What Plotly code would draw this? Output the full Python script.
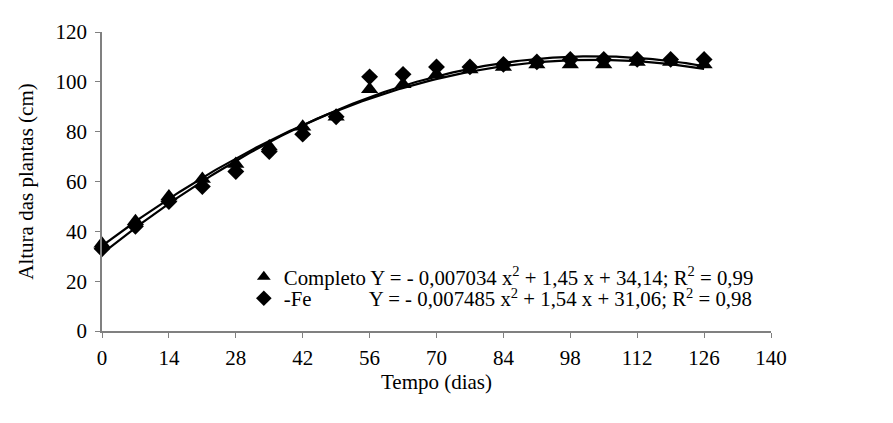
import numpy as np
import plotly.graph_objects as go

dias = [0, 7, 14, 21, 28, 35, 42, 49, 56, 63, 70, 77, 84, 91, 98, 105, 112, 119, 126]
completo = [35, 44, 54, 61, 67, 74, 82, 86, 97, 99, 103, 105, 106, 107, 107, 107, 108, 108, 107]
sem_fe = [33, 42, 52, 58, 64, 72, 79, 86, 102, 103, 106, 106, 107, 108, 109, 109, 109, 109, 109]

# regression coefficients shown in the legend (a, b, c) for Y = a x^2 + b x + c
coef_completo = [-0.007034, 1.45, 34.14]
coef_sem_fe = [-0.007485, 1.54, 31.06]

x_ticks = [0, 14, 28, 42, 56, 70, 84, 98, 112, 126, 140]
y_ticks = [0, 20, 40, 60, 80, 100, 120]

xs = np.linspace(0, 126, 200)
fig = go.Figure()
for coef in (coef_completo, coef_sem_fe):
    fig.add_trace(go.Scatter(x=xs, y=np.polyval(coef, xs), mode="lines",
                             line=dict(color="black", width=2.2), showlegend=False,
                             hoverinfo="skip"))

fig.add_trace(go.Scatter(
    x=dias, y=completo, mode="markers", cliponaxis=False, legend="legend",
    marker=dict(symbol="triangle-up", size=15, color="black"),
    name="Completo Y = - 0,007034 x<sup>2</sup> + 1,45 x + 34,14; R<sup>2</sup> = 0,99"))
fig.add_trace(go.Scatter(
    x=dias, y=sem_fe, mode="markers", cliponaxis=False, legend="legend2",
    marker=dict(symbol="diamond", size=13, color="black"),
    name="-Fe" + "\u00a0" * 11 + "Y = - 0,007485 x<sup>2</sup> + 1,54 x + 31,06; R<sup>2</sup> = 0,98"))

FAM = "Liberation Serif"
font = dict(family=FAM, size=21, color="black")
leg_font = dict(family=FAM, size=20.8, color="black")
fig.update_layout(
    width=893, height=423,
    margin=dict(l=94, r=130, t=17, b=100),
    plot_bgcolor="white", paper_bgcolor="white",
    font=font,
    showlegend=True,
    legend=dict(x=0.212, y=0.180, xanchor="left", yanchor="middle",
                bgcolor="rgba(0,0,0,0)", font=leg_font, itemsizing="constant"),
    legend2=dict(x=0.212, y=0.108, xanchor="left", yanchor="middle",
                 bgcolor="rgba(0,0,0,0)", font=leg_font, itemsizing="constant"),
    xaxis=dict(range=[0, 140], tickvals=x_ticks, showgrid=False, zeroline=False,
               showline=True, linecolor="#808080", linewidth=1.5,
               ticks="outside", ticklen=5, tickcolor="#808080",
               tickfont=font, ticklabelstandoff=2,
               title=dict(text="Tempo (dias)", standoff=4, font=font)),
    yaxis=dict(range=[0, 120], tickvals=y_ticks, showgrid=False, zeroline=False,
               showline=True, linecolor="#808080", linewidth=1.5,
               ticks="outside", ticklen=5, tickcolor="#808080",
               tickfont=font, ticklabelstandoff=4,
               title=dict(text="Altura das plantas (cm)", standoff=16, font=font)),
)
fig.write_html("out.html")
